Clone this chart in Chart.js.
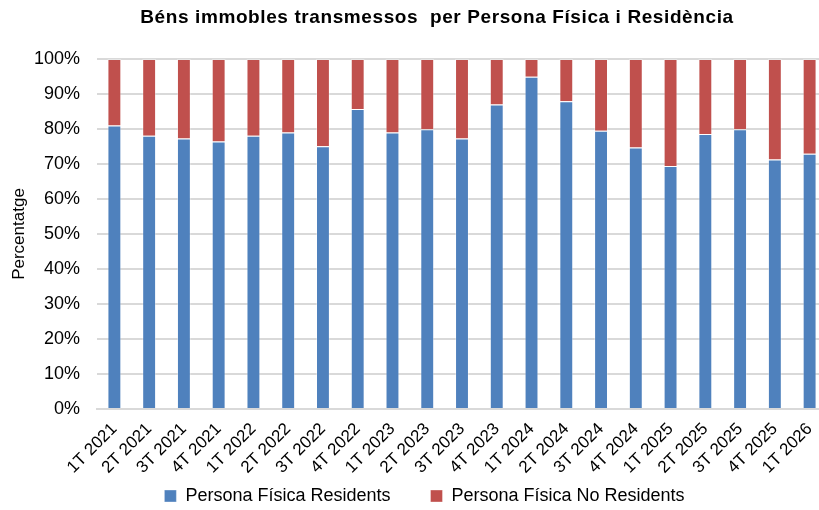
<!DOCTYPE html>
<html>
<head>
<meta charset="utf-8">
<script src="https://cdn.jsdelivr.net/npm/chart.js@4.4.0/dist/chart.umd.min.js"></script>
<style>
    html, body { margin: 0; padding: 0; background: #fff; overflow: hidden; }
    #wrap { position: relative; width: 862px; height: 510px; }
    #title {
        position: absolute; top: 6px; left: 137px; width: 600px;
        text-align: center; white-space: pre;
        font: bold 19px 'Liberation Sans', Arial, sans-serif;
        letter-spacing: 0.6px; color: #000;
    }
</style>
</head>
<body>
<div id="wrap">
    <div id="title"></div>
    <canvas id="chart"></canvas>
</div>
<script>
const title = "Béns immobles transmessos  per Persona Física i Residència";
const categories = [
    "1T 2021", "2T 2021", "3T 2021", "4T 2021",
    "1T 2022", "2T 2022", "3T 2022", "4T 2022",
    "1T 2023", "2T 2023", "3T 2023", "4T 2023",
    "1T 2024", "2T 2024", "3T 2024", "4T 2024",
    "1T 2025", "2T 2025", "3T 2025", "4T 2025",
    "1T 2026",
];
// % sobre el total de cada trimestre
const residents = [81, 78.1, 77.3, 76.4, 78.1, 79, 75.1, 85.7, 79, 79.9, 77.3, 87, 94.9, 87.9, 79.5, 74.7, 69.4, 78.6, 79.9, 71.3, 72.9];
const noResidents = [19, 21.9, 22.7, 23.6, 21.9, 21, 24.9, 14.3, 21, 20.1, 22.7, 13, 5.1, 12.1, 20.5, 25.3, 30.6, 21.4, 20.1, 28.7, 27.1];
const yTicks = [0, 10, 20, 30, 40, 50, 60, 70, 80, 90, 100];

const FONT = "'Liberation Sans', Arial, sans-serif";

document.getElementById("title").textContent = title;

new Chart(document.getElementById("chart"), {
    type: "bar",
    data: {
        labels: categories,
        datasets: [
            {
                label: "Persona Física Residents",
                data: residents,
                backgroundColor: "#4f81bd",
                borderColor: "rgba(255,255,255,0.35)",
                borderWidth: 1,
                barPercentage: 0.4,
                categoryPercentage: 1,
            },
            {
                label: "Persona Física No Residents",
                data: noResidents,
                backgroundColor: "#c0504d",
                borderColor: "rgba(255,255,255,0.35)",
                borderWidth: 1,
                barPercentage: 0.4,
                categoryPercentage: 1,
            },
        ],
    },
    options: {
        responsive: true,
        maintainAspectRatio: false,
        animation: false,
        layout: { padding: { top: 59, right: 35, bottom: -5, left: 0 } },
        plugins: {
            tooltip: { enabled: false },
            legend: {
                position: "bottom",
                fullSize: false,
                labels: {
                    color: "#000",
                    font: { family: FONT, size: 18 },
                    boxWidth: 12,
                    boxHeight: 12,
                    padding: 10,
                    // hueco entre entradas y desplazamiento como en el original
                    generateLabels: (chart) => {
                        const items = Chart.defaults.plugins.legend.labels.generateLabels(chart);
                        items.forEach((it, i) => {
                            it.text += (i < items.length - 1) ? "      " : "               ";
                        });
                        return items;
                    },
                },
            },
        },
        scales: {
            x: {
                stacked: true,
                grid: { display: false },
                border: { color: "#d9d9d9", width: 2 },
                ticks: {
                    color: "#000",
                    font: { family: FONT, size: 17 },
                    minRotation: 45,
                    maxRotation: 45,
                    autoSkip: false,
                    padding: 2,
                },
                afterFit: (axis) => { axis.height = 68; },
            },
            y: {
                stacked: true,
                min: 0,
                max: 100,
                afterBuildTicks: (axis) => {
                    axis.ticks = yTicks.map(v => ({ value: v }));
                },
                grid: { color: "#d9d9d9", lineWidth: 2, drawTicks: false },
                border: { display: false },
                ticks: {
                    color: "#000",
                    font: { family: FONT, size: 18 },
                    padding: 17,
                    callback: (v) => v + "%",
                },
                title: {
                    display: true,
                    text: "Percentatge",
                    color: "#000",
                    font: { family: FONT, size: 17 },
                    padding: { top: 9, bottom: 0 },
                },
                afterFit: (axis) => { axis.width = 97; },
            },
        },
    },
});
</script>
</body>
</html>
